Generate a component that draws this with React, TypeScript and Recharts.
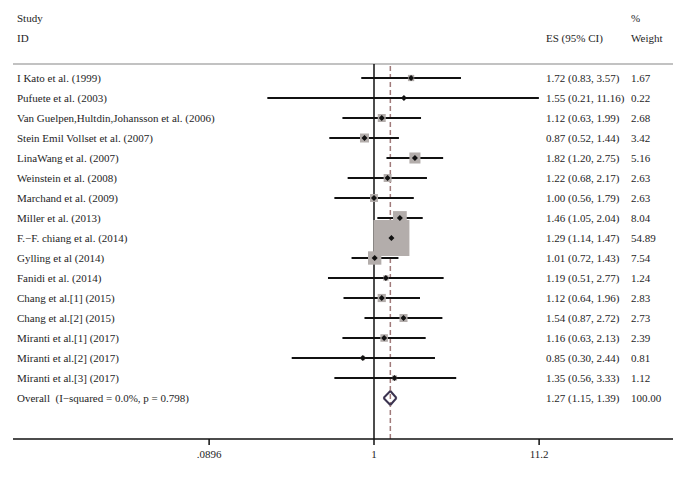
import React from "react";
import { ComposedChart, XAxis, YAxis, Scatter, ErrorBar, ReferenceLine } from "recharts";

const studies = [
  "I Kato et al. (1999)",
  "Pufuete et al. (2003)",
  "Van Guelpen,Hultdin,Johansson et al. (2006)",
  "Stein Emil Vollset et al. (2007)",
  "LinaWang et al. (2007)",
  "Weinstein et al. (2008)",
  "Marchand et al. (2009)",
  "Miller et al. (2013)",
  "F.\u2212F. chiang et al. (2014)",
  "Gylling et al (2014)",
  "Fanidi et al. (2014)",
  "Chang et al.[1] (2015)",
  "Chang et al.[2] (2015)",
  "Miranti et al.[1] (2017)",
  "Miranti et al.[2] (2017)",
  "Miranti et al.[3] (2017)",
];
const es = [1.72, 1.55, 1.12, 0.87, 1.82, 1.22, 1.0, 1.46, 1.29, 1.01, 1.19, 1.12, 1.54, 1.16, 0.85, 1.35];
const ciLow = [0.83, 0.21, 0.63, 0.52, 1.2, 0.68, 0.56, 1.05, 1.14, 0.72, 0.51, 0.64, 0.87, 0.63, 0.3, 0.56];
const ciHigh = [3.57, 11.16, 1.99, 1.44, 2.75, 2.17, 1.79, 2.04, 1.47, 1.43, 2.77, 1.96, 2.72, 2.13, 2.44, 3.33];
const weights = [1.67, 0.22, 2.68, 3.42, 5.16, 2.63, 2.63, 8.04, 54.89, 7.54, 1.24, 2.83, 2.73, 2.39, 0.81, 1.12];

const overallLabel = "Overall  (I\u2212squared = 0.0%, p = 0.798)";
const overallES = 1.27;
const overallLow = 1.15;
const overallHigh = 1.39;
const overallWeight = 100.0;

const tickValues = [0.0896, 1, 11.2];
const tickLabels = [".0896", "1", "11.2"];

const headerLeft = ["Study", "ID"];
const headerES = "ES (95% CI)";
const headerWeight = ["%", "Weight"];

const FONT = '"Liberation Serif", "Times New Roman", serif';
const TEXT = "#1e1e1e";

const ln = Math.log;
const rows = es.map((v, i) => ({
  x: ln(v),
  y: i,
  w: weights[i],
  err: [ln(v) - ln(ciLow[i]), ln(ciHigh[i]) - ln(v)],
}));
const overallRow = studies.length;

const X_DOMAIN: [number, number] = [-5.2819, 4.3747];
const Y_DOMAIN: [number, number] = [-3.9, 18.05];
const yTicks = [-3, -2, ...studies.map((_, i) => i), overallRow];

const fmt = (v: number) => v.toFixed(2);

const renderLeftTick = (props: any) => {
  const { y, payload } = props;
  const v = payload.value;
  let t = "";
  if (v === -3) t = headerLeft[0];
  else if (v === -2) t = headerLeft[1];
  else if (v < studies.length) t = studies[v];
  else t = overallLabel;
  return (
    <text key={`l${v}`} x={17} y={y} dy="0.35em" fontSize={11} fontFamily={FONT} fill={TEXT} style={{ whiteSpace: "pre" }}>
      {t}
    </text>
  );
};

const renderRightTick = (props: any) => {
  const { y, payload } = props;
  const v = payload.value;
  let a = "";
  let b = "";
  if (v === -3) b = headerWeight[0];
  else if (v === -2) {
    a = headerES;
    b = headerWeight[1];
  } else if (v < studies.length) {
    a = `${fmt(es[v])} (${fmt(ciLow[v])}, ${fmt(ciHigh[v])})`;
    b = fmt(weights[v]);
  } else {
    a = `${fmt(overallES)} (${fmt(overallLow)}, ${fmt(overallHigh)})`;
    b = fmt(overallWeight);
  }
  return (
    <g key={`r${v}`}>
      <text x={546} y={y} dy="0.35em" fontSize={11} fontFamily={FONT} fill={TEXT}>
        {a}
      </text>
      <text x={631} y={y} dy="0.35em" fontSize={11} fontFamily={FONT} fill={TEXT}>
        {b}
      </text>
    </g>
  );
};

const BoxShape = (props: any) => {
  const { cx, cy, payload } = props;
  const s = 4.86 * Math.sqrt(payload.w);
  return <rect x={cx - s / 2} y={cy - s / 2} width={s} height={s} fill="#b3adab" />;
};

const DotShape = (props: any) => {
  const { cx, cy } = props;
  const r = 3;
  return <polygon points={`${cx - r},${cy} ${cx},${cy - r} ${cx + r},${cy} ${cx},${cy + r}`} fill="#111" />;
};

const xTickFormatter = (v: number) => {
  let best = 0;
  tickValues.forEach((t, i) => {
    if (Math.abs(ln(t) - v) < Math.abs(ln(tickValues[best]) - v)) best = i;
  });
  return tickLabels[best];
};

export default function App() {
  const oe = ln(overallES);
  const ol = ln(overallLow);
  const oh = ln(overallHigh);
  const dh = 0.35;
  const diamondStroke = "#3b3350";
  return (
    <div style={{ position: "absolute", left: 0, top: 0, width: 683, height: 481, background: "#fff" }}>
      <ComposedChart width={683} height={481} margin={{ top: 0, right: 9, bottom: 12, left: 12 }}>
        <XAxis
          dataKey="x"
          type="number"
          domain={X_DOMAIN}
          allowDataOverflow
          ticks={tickValues.map(ln)}
          interval={0}
          height={30}
          tickFormatter={xTickFormatter}
          tickSize={6}
          tickMargin={5}
          axisLine={{ stroke: "#111", strokeWidth: 1.5 }}
          tickLine={{ stroke: "#111", strokeWidth: 1.5 }}
          tick={{ fontSize: 11, fontFamily: FONT, fill: TEXT }}
        />
        <YAxis
          yAxisId="L"
          dataKey="y"
          type="number"
          domain={Y_DOMAIN}
          allowDataOverflow
          reversed
          ticks={yTicks}
          interval={0}
          width={1}
          axisLine={false}
          tickLine={false}
          tick={renderLeftTick}
        />
        <YAxis
          yAxisId="R"
          orientation="right"
          dataKey="y"
          type="number"
          domain={Y_DOMAIN}
          allowDataOverflow
          reversed
          ticks={yTicks}
          interval={0}
          width={1}
          axisLine={false}
          tickLine={false}
          tick={renderRightTick}
        />
        <ReferenceLine
          yAxisId="L"
          segment={[{ x: X_DOMAIN[0], y: -0.7 }, { x: X_DOMAIN[1], y: -0.7 }]}
          stroke="#c2c2c2"
          strokeWidth={2}
          ifOverflow="visible"
        />
        <ReferenceLine
          yAxisId="L"
          segment={[{ x: 0, y: -0.7 }, { x: 0, y: Y_DOMAIN[1] }]}
          stroke="#111"
          strokeWidth={1.5}
          ifOverflow="visible"
        />
        <ReferenceLine
          yAxisId="L"
          segment={[{ x: oe, y: -0.6 }, { x: oe, y: Y_DOMAIN[1] }]}
          stroke="#a07a7a"
          strokeWidth={1.5}
          strokeDasharray="5 3"
          ifOverflow="visible"
        />
        <Scatter yAxisId="L" data={rows} dataKey="y" shape={<BoxShape />} isAnimationActive={false} />
        <Scatter yAxisId="L" data={rows} dataKey="y" shape={<DotShape />} isAnimationActive={false}>
          <ErrorBar dataKey="err" direction="x" width={0} stroke="#111" strokeWidth={2} isAnimationActive={false} />
        </Scatter>
        <ReferenceLine yAxisId="L" segment={[{ x: ol, y: overallRow }, { x: oe, y: overallRow - dh }]} stroke={diamondStroke} strokeWidth={2} ifOverflow="visible" />
        <ReferenceLine yAxisId="L" segment={[{ x: oe, y: overallRow - dh }, { x: oh, y: overallRow }]} stroke={diamondStroke} strokeWidth={2} ifOverflow="visible" />
        <ReferenceLine yAxisId="L" segment={[{ x: oh, y: overallRow }, { x: oe, y: overallRow + dh }]} stroke={diamondStroke} strokeWidth={2} ifOverflow="visible" />
        <ReferenceLine yAxisId="L" segment={[{ x: oe, y: overallRow + dh }, { x: ol, y: overallRow }]} stroke={diamondStroke} strokeWidth={2} ifOverflow="visible" />
      </ComposedChart>
    </div>
  );
}
